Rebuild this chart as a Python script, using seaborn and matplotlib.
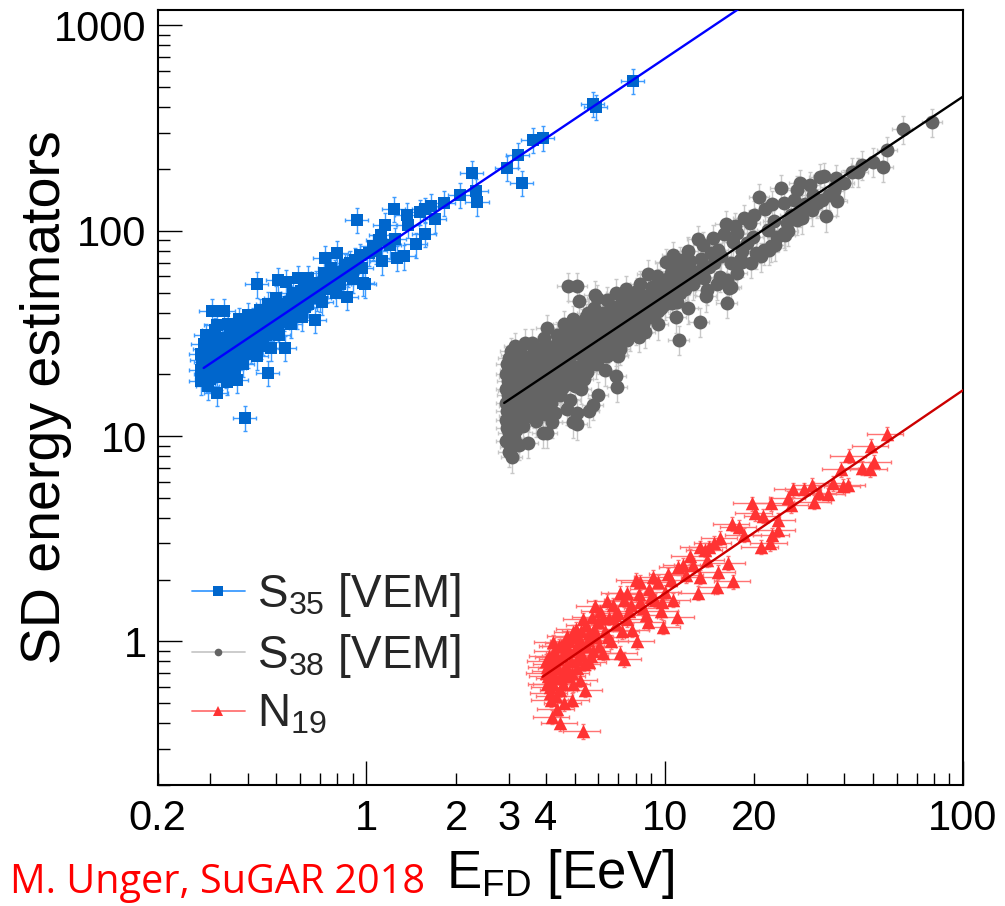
import matplotlib
matplotlib.use("Agg")
import matplotlib.pyplot as plt
from matplotlib.lines import Line2D
from matplotlib.ticker import FixedLocator, FixedFormatter
import numpy as np
import pandas as pd
import seaborn as sns

# ---------------------------------------------------------------------------
# Calibration events: (E_FD [EeV], SD estimator)
# ---------------------------------------------------------------------------
s35_points = [
    (0.28, 21.0), (0.28, 25.0), (0.28, 18.5), (0.285, 28.0), (0.29, 20.0), (0.29, 23.0),
    (0.29, 31.0), (0.295, 17.5), (0.30, 22.0), (0.30, 26.0), (0.30, 19.0), (0.305, 29.0),
    (0.31, 24.0), (0.31, 21.0), (0.31, 33.0), (0.315, 16.3), (0.315, 34.9), (0.303, 40.8),
    (0.333, 40.8), (0.32, 27.0), (0.32, 22.5), (0.325, 19.5), (0.33, 25.0), (0.33, 30.0),
    (0.335, 21.0), (0.34, 28.0), (0.34, 24.0), (0.345, 35.0), (0.341, 18.4), (0.35, 26.0),
    (0.35, 31.0), (0.355, 22.0), (0.36, 27.0), (0.36, 33.0), (0.369, 18.8), (0.37, 29.0),
    (0.37, 24.0), (0.375, 37.0), (0.38, 27.0), (0.38, 31.0), (0.385, 22.5), (0.39, 34.0),
    (0.392, 12.3), (0.40, 29.0), (0.40, 25.0), (0.40, 39.0), (0.41, 32.0), (0.42, 28.0),
    (0.42, 35.0), (0.43, 55.0), (0.43, 24.5), (0.44, 33.0), (0.44, 41.0), (0.45, 29.0),
    (0.46, 36.0), (0.46, 31.0), (0.468, 20.4), (0.47, 44.0), (0.48, 34.0), (0.48, 27.0),
    (0.49, 39.0), (0.50, 36.0), (0.50, 47.0), (0.506, 57.8), (0.51, 31.0), (0.52, 42.0),
    (0.533, 27.0), (0.53, 38.0), (0.54, 56.6), (0.55, 45.0), (0.56, 35.0), (0.57, 50.0),
    (0.58, 41.0), (0.59, 59.0), (0.60, 46.0), (0.61, 38.0), (0.62, 53.0), (0.64, 59.0),
    (0.64, 44.0), (0.65, 48.0), (0.66, 50.0), (0.673, 36.9), (0.68, 56.0), (0.69, 52.0),
    (0.70, 47.0), (0.71, 45.0), (0.72, 62.0), (0.727, 74.0), (0.74, 52.0), (0.75, 58.0),
    (0.76, 66.0), (0.78, 57.0), (0.79, 50.0), (0.798, 78.0), (0.82, 63.0), (0.83, 60.0),
    (0.86, 47.7), (0.87, 62.0), (0.88, 70.0), (0.90, 58.0), (0.92, 72.0), (0.93, 113.0),
    (0.95, 76.0), (0.97, 66.0), (0.975, 55.8), (0.99, 55.0), (1.02, 78.0), (1.05, 84.0),
    (1.08, 80.0), (1.10, 90.0), (1.12, 95.0), (1.13, 71.0), (1.16, 107.0), (1.20, 85.0),
    (1.24, 128.0), (1.25, 91.0), (1.27, 74.0), (1.34, 75.0), (1.37, 120.0), (1.38, 107.0),
    (1.47, 86.0), (1.51, 124.0), (1.57, 127.0), (1.57, 97.0), (1.65, 132.0), (1.70, 114.0),
    (1.82, 137.0), (2.06, 150.0), (2.26, 191.0), (2.34, 157.0), (2.36, 138.0), (2.97, 203.0),
    (3.23, 234.0), (3.33, 171.0), (3.63, 277.0), (3.92, 284.0), (5.77, 415.0), (5.90, 401.0),
    (7.85, 537.0),
    # dense low-energy core
    (0.282, 23.5), (0.288, 26.5), (0.292, 19.0), (0.298, 24.5), (0.302, 21.0), (0.308, 27.0),
    (0.312, 19.5), (0.318, 25.0), (0.322, 29.5), (0.328, 22.0), (0.332, 27.5), (0.338, 20.0),
    (0.344, 26.5), (0.348, 32.0), (0.352, 23.5), (0.358, 29.0), (0.362, 21.5), (0.366, 31.0),
    (0.372, 26.0), (0.378, 33.5), (0.382, 24.5), (0.388, 29.5), (0.395, 27.0), (0.405, 31.5),
    (0.412, 26.5), (0.418, 37.0), (0.425, 30.5), (0.435, 34.5), (0.445, 27.5), (0.455, 38.5),
    (0.465, 33.0), (0.475, 40.0), (0.485, 31.5), (0.495, 42.0), (0.505, 33.5), (0.515, 44.0),
    (0.525, 36.0), (0.545, 40.0), (0.565, 46.5), (0.585, 38.5), (0.605, 51.0), (0.625, 42.5),
    (0.655, 55.0), (0.685, 47.5), (0.715, 53.5), (0.745, 60.0), (0.785, 63.0), (0.815, 55.0),
    (0.85, 68.0), (0.89, 64.0),
]

s38_points = [
    # threshold wall near 3 EeV
    (2.95, 9.5), (2.95, 12.0), (2.95, 14.5), (2.95, 17.0), (2.95, 20.0), (2.96, 22.5),
    (2.97, 11.0), (2.97, 13.2), (2.98, 15.8), (2.98, 18.5), (3.00, 8.4), (3.00, 10.3),
    (3.00, 16.5), (3.00, 24.0), (3.02, 12.5), (3.02, 19.5), (3.03, 14.0), (3.05, 8.9),
    (3.05, 21.0), (3.05, 26.0), (3.07, 7.9), (3.08, 11.5), (3.08, 24.9), (3.10, 15.0),
    (3.10, 17.8), (3.12, 9.8), (3.12, 13.0), (3.15, 20.5), (3.15, 27.5), (3.18, 10.7),
    (3.20, 16.2), (3.20, 22.0), (3.24, 9.1), (3.25, 12.3), (3.25, 18.5), (3.28, 14.5),
    (3.30, 25.0), (3.30, 20.5),
    # 3.3 - 5 EeV
    (3.35, 11.2), (3.40, 16.5), (3.41, 28.5), (3.45, 13.5), (3.45, 21.0), (3.49, 9.3),
    (3.50, 18.0), (3.55, 24.0), (3.60, 28.5), (3.60, 14.8), (3.65, 19.5), (3.70, 11.8),
    (3.70, 22.0), (3.75, 16.8), (3.80, 26.5), (3.80, 18.9), (3.85, 13.5), (3.90, 10.4),
    (3.90, 21.5), (3.95, 30.0), (4.00, 17.2), (4.00, 24.0), (4.04, 33.7), (4.04, 10.4),
    (4.10, 19.8), (4.15, 14.5), (4.20, 11.7), (4.20, 22.5), (4.25, 27.5), (4.30, 18.5),
    (4.35, 31.0), (4.40, 21.0), (4.45, 15.8), (4.50, 25.0), (4.55, 19.5), (4.60, 35.0),
    (4.65, 23.0), (4.70, 13.5), (4.75, 54.0), (4.80, 28.0), (4.85, 20.0), (4.94, 37.3),
    (4.94, 11.7), (4.95, 25.5), (5.00, 17.5), (5.00, 31.0),
    (3.35, 14.2), (3.38, 19.0), (3.42, 23.5), (3.47, 15.5), (3.52, 12.5), (3.55, 20.5),
    (3.58, 17.0), (3.62, 25.5), (3.66, 13.0), (3.68, 16.0), (3.72, 19.8), (3.78, 23.0),
    (3.82, 15.0), (3.88, 17.8), (3.92, 25.5), (3.96, 12.8), (4.02, 20.8), (4.06, 15.5),
    (4.08, 27.0), (4.12, 17.0), (4.18, 23.8), (4.22, 19.0), (4.28, 13.0), (4.32, 25.8),
    (4.38, 16.8), (4.42, 29.0), (4.48, 20.0), (4.52, 17.2), (4.58, 27.5), (4.62, 21.5),
    (4.68, 32.0), (4.72, 18.0), (4.78, 24.5), (4.82, 15.0), (4.88, 29.5), (4.92, 22.0),
    (4.98, 33.5),
    # 5 - 8 EeV
    (5.07, 13.0), (5.10, 54.0), (5.10, 11.4), (5.15, 45.6), (5.15, 27.0), (5.20, 22.0),
    (5.30, 33.0), (5.35, 19.0), (5.40, 26.0), (5.45, 38.0), (5.50, 29.5), (5.55, 23.5),
    (5.60, 13.2), (5.60, 35.0), (5.70, 27.5), (5.74, 14.2), (5.83, 48.9), (5.85, 31.0),
    (5.90, 22.5), (5.96, 47.0), (6.00, 15.9), (6.00, 34.0), (6.10, 27.0), (6.20, 40.0),
    (6.30, 30.0), (6.40, 24.5), (6.50, 36.0), (6.60, 43.0), (6.70, 29.0), (6.80, 33.0),
    (6.89, 19.7), (6.95, 17.4), (7.00, 38.5), (7.10, 26.5), (7.20, 45.0), (7.30, 32.0),
    (7.40, 36.0), (7.50, 29.5), (7.60, 48.0), (7.70, 40.0), (7.80, 34.0), (7.90, 43.0),
    (5.05, 20.0), (5.12, 25.5), (5.18, 30.0), (5.25, 17.0), (5.28, 36.0), (5.38, 23.0),
    (5.42, 28.0), (5.48, 20.5), (5.52, 40.0), (5.58, 26.0), (5.65, 31.5), (5.72, 24.0),
    (5.78, 37.0), (5.88, 27.0), (5.95, 33.0), (6.05, 24.0), (6.15, 37.5), (6.25, 28.0),
    (6.35, 33.5), (6.45, 27.0), (6.55, 39.0), (6.65, 31.0), (6.75, 36.5), (6.85, 26.0),
    (6.95, 42.0), (7.05, 33.0), (7.15, 38.0), (7.25, 30.0), (7.35, 41.5), (7.45, 33.5),
    (7.55, 38.5), (7.65, 31.0), (7.75, 44.0), (7.85, 36.5), (7.95, 40.0),
    (6.40, 46.0), (6.90, 50.0), (7.40, 52.0), (5.80, 42.0), (6.30, 21.0), (7.00, 24.5),
    # 8 - 12 EeV
    (8.00, 37.0), (8.10, 51.0), (8.20, 30.5), (8.30, 45.0), (8.40, 40.0), (8.50, 35.0),
    (8.60, 48.0), (8.80, 61.8), (8.80, 42.0), (9.00, 38.0), (9.10, 53.0), (9.30, 46.0),
    (9.50, 40.5), (9.60, 56.0), (9.80, 50.0), (10.0, 44.0), (10.1, 70.6), (10.2, 58.0),
    (10.4, 47.0), (10.5, 62.0), (10.7, 76.4), (10.8, 53.0), (11.0, 45.0), (11.2, 29.5),
    (11.2, 59.0), (11.5, 66.0), (11.7, 52.0), (12.0, 61.0), (12.2, 71.0), (12.5, 55.0),
    (8.05, 33.0), (8.15, 43.0), (8.25, 38.5), (8.35, 48.5), (8.45, 36.0), (8.55, 42.5),
    (8.70, 46.0), (8.90, 39.5), (9.00, 50.0), (9.20, 43.0), (9.40, 52.0), (9.55, 45.0),
    (9.70, 42.0), (9.90, 55.0), (10.3, 51.0), (10.6, 44.5), (10.9, 57.0), (11.3, 50.0),
    (11.6, 60.5), (11.9, 55.0), (12.3, 64.0), (12.7, 58.0),
    (8.30, 55.0), (9.40, 60.0), (10.5, 68.0), (11.3, 72.0), (12.0, 80.0), (8.60, 32.0),
    (9.50, 35.0), (10.9, 38.0), (12.0, 42.0),
    # 12 - 30 EeV
    (12.9, 91.4), (13.0, 64.0), (13.1, 36.1), (13.3, 73.0), (13.6, 59.0), (13.9, 51.6),
    (14.1, 66.8), (14.3, 78.0), (14.6, 70.0), (15.1, 81.0), (15.4, 59.7), (15.5, 75.0),
    (16.1, 108.0), (16.2, 57.6), (16.2, 44.7), (16.4, 52.8), (16.7, 69.8), (16.7, 53.3),
    (17.0, 88.0), (17.5, 98.0), (17.9, 72.3), (18.2, 70.6), (18.2, 80.0), (18.9, 87.5),
    (19.4, 109.0), (19.8, 93.0), (20.3, 78.0), (20.8, 146.0), (21.5, 81.0), (22.2, 101.0),
    (22.4, 81.0), (22.7, 84.0), (23.3, 112.0), (23.9, 93.5), (24.6, 162.0), (25.2, 98.0),
    (25.2, 137.0), (25.4, 95.6), (25.8, 109.0), (26.5, 120.0), (27.1, 141.0), (27.9, 113.0),
    (27.9, 158.6), (28.5, 124.0), (28.5, 171.0), (29.5, 135.0),
    (13.5, 85.0), (14.5, 92.0), (15.8, 96.0), (17.2, 105.0), (18.5, 115.0), (20.0, 120.0),
    (21.8, 128.0), (23.0, 135.0), (13.8, 48.0), (15.0, 55.0), (17.5, 62.0), (19.5, 70.0),
    (21.0, 75.0), (23.5, 85.0), (26.0, 100.0), (29.0, 115.0),
    # above 30 EeV
    (30.7, 167.0), (31.2, 126.0), (32.5, 137.0), (33.2, 183.0), (33.8, 141.0), (34.2, 185.0),
    (34.9, 118.0), (36.9, 157.0), (37.4, 164.0), (37.7, 181.0), (42.6, 194.0), (44.6, 194.0),
    (50.1, 217.0), (54.2, 205.0), (55.9, 248.0), (62.8, 314.0), (79.1, 339.0),
    (31.5, 150.0), (35.5, 150.0), (38.0, 140.0), (40.0, 170.0), (46.0, 210.0),
]

n19_points = [
    (4.00, 0.70), (4.05, 0.62), (4.05, 0.755), (4.10, 0.85), (4.14, 0.60), (4.15, 0.52),
    (4.20, 0.78), (4.20, 0.43), (4.24, 0.99), (4.25, 0.90), (4.30, 0.66), (4.35, 0.47),
    (4.40, 0.82), (4.45, 0.58), (4.47, 0.40), (4.50, 0.95), (4.55, 0.72), (4.60, 0.50),
    (4.65, 0.88), (4.70, 1.06), (4.75, 0.68), (4.80, 1.00), (4.85, 0.80), (4.90, 0.52),
    (4.94, 1.11), (4.95, 0.62), (5.00, 0.92), (5.05, 1.15), (5.10, 0.74), (5.20, 1.02),
    (5.20, 0.65), (5.30, 0.86), (5.33, 1.28), (5.33, 0.365), (5.40, 0.58), (5.45, 1.20),
    (5.50, 0.95), (5.60, 1.10), (5.60, 0.79), (5.70, 1.32), (5.75, 0.90), (5.85, 1.48),
    (5.90, 1.05), (6.00, 1.25), (6.10, 1.40), (6.20, 0.88), (6.30, 1.12), (6.40, 1.57),
    (6.50, 1.30), (6.60, 1.00), (6.70, 1.50), (6.90, 1.22), (7.00, 1.38), (7.10, 0.88),
    (7.10, 1.73), (7.30, 0.82), (7.30, 1.60), (7.50, 1.28), (7.50, 1.73), (7.70, 1.50),
    (7.80, 1.14), (8.00, 2.00), (8.10, 1.00), (8.20, 1.70), (8.28, 1.94), (8.50, 1.45),
    (8.80, 1.24), (8.90, 1.80), (9.16, 2.07), (9.30, 1.60), (9.50, 1.95), (9.70, 1.40),
    (9.90, 1.18), (10.0, 1.75), (10.3, 2.12), (10.5, 2.00), (10.7, 1.60), (11.0, 1.31),
    (11.1, 2.30), (11.5, 2.37), (11.8, 2.10), (12.2, 2.60), (12.5, 2.35), (12.9, 1.73),
    (13.1, 2.87), (13.2, 2.07), (13.7, 2.80), (13.9, 2.50), (14.1, 2.87), (14.6, 3.03),
    (15.0, 1.85), (15.1, 2.19), (15.4, 3.20), (16.3, 2.42), (16.9, 3.75), (17.0, 1.96),
    (17.8, 3.60), (18.5, 3.30), (19.7, 4.70), (20.1, 4.20), (21.0, 2.90), (21.4, 4.10),
    (22.5, 3.00), (22.8, 4.70), (23.0, 3.30), (24.0, 3.90), (24.0, 3.50), (26.0, 5.00),
    (26.5, 4.60), (27.0, 5.50), (29.4, 5.50), (31.3, 5.80), (31.6, 4.80), (33.0, 5.30),
    (35.2, 5.20), (36.8, 5.90), (39.2, 6.90), (39.8, 5.70), (41.1, 5.80), (41.7, 8.00),
    (46.0, 7.00), (48.8, 6.90), (49.4, 9.00), (50.3, 7.50), (55.5, 10.2),
    (4.02, 0.80), (4.08, 0.68), (4.12, 0.56), (4.18, 0.72), (4.22, 0.62), (4.28, 0.84),
    (4.32, 0.54), (4.38, 0.74), (4.42, 0.95), (4.48, 0.66), (4.52, 0.85), (4.58, 0.62),
    (4.62, 0.98), (4.68, 0.76), (4.78, 0.90), (4.88, 0.70), (4.98, 1.05), (5.08, 0.82),
    (5.15, 0.95), (5.25, 1.12), (5.35, 0.78), (5.55, 1.02), (5.65, 0.85), (5.80, 1.15),
    (6.05, 0.95), (6.20, 1.30), (6.45, 1.05), (6.80, 1.35), (7.20, 1.12), (7.60, 1.40),
    (8.30, 1.55), (8.70, 1.35), (9.00, 1.65), (9.80, 1.55),
]

# relative uncertainties (energy, estimator)
s35_rel_err = (0.09, 0.14)
s38_rel_err = (0.08, 0.16)
n19_rel_err = (0.14, 0.08)

# power-law calibration fits: value = norm * (E / E_ref)^slope over [E_min, E_max]
s35_fit = dict(norm=73.0, e_ref=1.0, slope=0.975, e_min=0.285, e_max=20.0)
s38_fit = dict(norm=48.2, e_ref=10.0, slope=0.970, e_min=2.9, e_max=100.0)
n19_fit = dict(norm=1.71, e_ref=10.0, slope=0.990, e_min=3.9, e_max=100.0)

legend_labels = [r"S$_{35}$ [VEM]", r"S$_{38}$ [VEM]", r"N$_{19}$"]

x_major = [1, 10, 100]
x_minor = [0.2, 0.3, 0.4, 0.5, 0.6, 0.7, 0.8, 0.9,
           2, 3, 4, 5, 6, 7, 8, 9,
           20, 30, 40, 50, 60, 70, 80, 90]
x_minor_labels = {0.2: "0.2", 2: "2", 3: "3", 4: "4", 20: "20"}
y_major = [1, 10, 100, 1000]
y_minor = [m * d for d in (0.1, 1, 10, 100) for m in range(2, 10)]

# ---------------------------------------------------------------------------
sns.set_theme(style="ticks")
plt.rcParams["font.family"] = ["Liberation Sans", "DejaVu Sans"]
plt.rcParams["mathtext.fontset"] = "custom"
plt.rcParams["mathtext.rm"] = "Liberation Sans"
plt.rcParams["mathtext.it"] = "Liberation Sans:italic"
plt.rcParams["mathtext.bf"] = "Liberation Sans:bold"

fig = plt.figure(figsize=(10.05, 9.06), dpi=100)
ax = fig.add_axes([0.157, 0.1336, 0.801, 0.8554])
ax.set_xscale("log")
ax.set_yscale("log")

series = [
    ("S35", s35_points, s35_rel_err, s35_fit, "s", 70, "#0066cc", "#3d9bff", "#0000ff"),
    ("S38", s38_points, s38_rel_err, s38_fit, "o", 100, "#646464", "#c8c8c8", "#000000"),
    ("N19", n19_points, n19_rel_err, n19_fit, "^", 95, "#ff3333", "#ff7373", "#cc0000"),
]

frames = {}
for name, pts, (fx, fy), fit, *_ in series:
    df = pd.DataFrame(pts, columns=["E", "value"])
    df["E_err"] = df["E"] * fx
    df["value_err"] = df["value"] * fy
    frames[name] = df

# error bars underneath everything
for name, pts, rel, fit, mk, size, mcol, ecol, lcol in series:
    df = frames[name]
    ax.errorbar(df["E"], df["value"], xerr=df["E_err"], yerr=df["value_err"],
                fmt="none", ecolor=ecol, elinewidth=1.0, capsize=1.5,
                capthick=1.0, zorder=1)

# markers
for name, pts, rel, fit, mk, size, mcol, ecol, lcol in series:
    sns.scatterplot(data=frames[name], x="E", y="value", marker=mk, s=size,
                    color=mcol, linewidth=0, ax=ax, zorder=2, legend=False)

# fitted calibration lines
for name, pts, rel, fit, mk, size, mcol, ecol, lcol in series:
    e_line = np.array([fit["e_min"], fit["e_max"]])
    fit_df = pd.DataFrame({
        "E": e_line,
        "value": fit["norm"] * (e_line / fit["e_ref"]) ** fit["slope"],
    })
    sns.lineplot(data=fit_df, x="E", y="value", color=lcol, linewidth=1.7,
                 estimator=None, sort=False, ax=ax, zorder=3)

ax.set_xlim(0.2, 100)
ax.set_ylim(0.2, 1190)

ax.xaxis.set_major_locator(FixedLocator(x_major))
ax.xaxis.set_major_formatter(FixedFormatter([str(v) for v in x_major]))
ax.xaxis.set_minor_locator(FixedLocator(x_minor))
ax.xaxis.set_minor_formatter(FixedFormatter([x_minor_labels.get(v, "") for v in x_minor]))
ax.yaxis.set_major_locator(FixedLocator(y_major))
ax.yaxis.set_major_formatter(FixedFormatter([str(v) for v in y_major]))
ax.yaxis.set_minor_locator(FixedLocator(y_minor))
ax.yaxis.set_minor_formatter(FixedFormatter([""] * len(y_minor)))

ax.tick_params(which="both", direction="in", top=False, right=False,
               width=1.0, color="black", labelsize=30, labelcolor="black")
ax.tick_params(which="major", length=17)
ax.tick_params(which="minor", length=8.5)
ax.tick_params(axis="x", which="both", pad=10)
ax.tick_params(axis="y", which="both", pad=8)
for sp in ax.spines.values():
    sp.set_linewidth(1.5)
    sp.set_color("black")
    sp.set_visible(True)

ax.set_xlabel(r"E$_{\rm FD}$ [EeV]", fontsize=38, color="black")
ax.xaxis.set_label_coords(0.5, -0.133)
ax.xaxis.label.set_va("baseline")
ax.set_ylabel("SD energy estimators", fontsize=40, color="black")
ax.yaxis.set_label_coords(-0.107, 0.5)

handles = []
for name, pts, rel, fit, mk, size, mcol, ecol, lcol in series:
    msize = {"s": 6.7, "o": 5.5, "^": 7.5}[mk]
    handles.append(Line2D([0], [0], color=ecol, linewidth=1.3, marker=mk,
                          markersize=msize, markerfacecolor=mcol,
                          markeredgewidth=0))
ax.legend(handles, legend_labels, loc="upper left", bbox_to_anchor=(0.042, 0.276),
          frameon=False, fontsize=33, handlelength=1.16, handletextpad=0.26,
          labelspacing=0.28, borderpad=0.0, borderaxespad=0.0)

fig.text(10 / 1005, 13 / 906, "M. Unger, SuGAR 2018", color="#ff0000",
         fontsize=28.5, family=["Open Sans", "DejaVu Sans"], va="baseline", ha="left")

fig.savefig("out.png", dpi=100)
